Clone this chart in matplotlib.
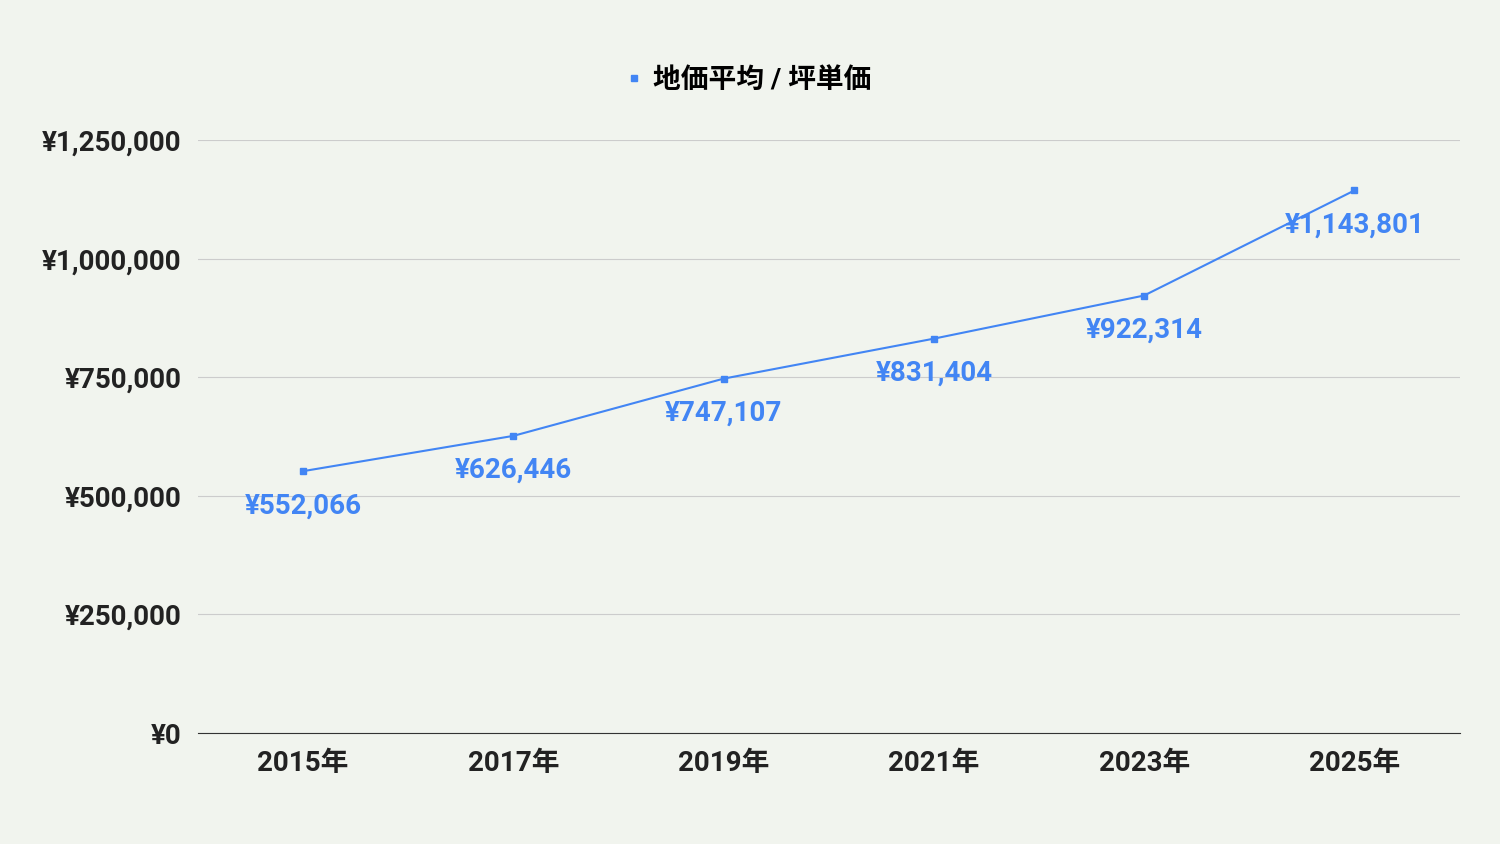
import matplotlib
matplotlib.use('Agg')
import matplotlib.pyplot as plt
import numpy as np

plt.rcParams['font.family'] = ['Roboto', 'Noto Sans CJK JP', 'DejaVu Sans']

years = ['2015年', '2017年', '2019年', '2021年', '2023年', '2025年']
prices = [552066, 626446, 747107, 831404, 922314, 1143801]
series_name = '地価平均 / 坪単価'

bg = '#f1f4ee'
blue = '#4285f4'

fig = plt.figure(figsize=(15, 8.44), dpi=100, facecolor=bg)
ax = fig.add_axes([0.132, 0.1315, 0.841, 0.7025], facecolor=bg)

x = np.arange(len(years))
line, = ax.plot(x, prices, color=blue, lw=1.5, marker='s', markersize=5, label=series_name)

for xi, v in zip(x, prices):
    ax.annotate('¥{:,}'.format(v), (xi, v), xytext=(0, -25), textcoords='offset points',
                ha='center', va='center', color=blue, fontsize=20, fontweight='bold')

ax.set_xlim(-0.5, len(years) - 0.5)
ax.set_ylim(0, 1250000)
ax.set_xticks(x)
ax.set_xticklabels(years, fontsize=20, fontweight='bold', color='#222222')
yt = np.arange(0, 1250001, 250000)
ax.set_yticks(yt)
ax.set_yticklabels(['¥{:,}'.format(v) for v in yt], fontsize=20, fontweight='bold', color='#222222')
ax.tick_params(length=0, pad=12)
ax.grid(axis='y', color='#cccccc', lw=0.8)
for s in ['top', 'right', 'left']:
    ax.spines[s].set_visible(False)
ax.spines['bottom'].set_color('#333333')

leg = fig.legend(handles=[line], loc='center', bbox_to_anchor=(0.5, 0.905), frameon=False,
                 prop={'size': 20, 'weight': 'bold'}, handlelength=0.4, handletextpad=0.5)
leg.get_lines()[0].set_linestyle('')

fig.savefig('out.png', dpi=100, facecolor=bg)
